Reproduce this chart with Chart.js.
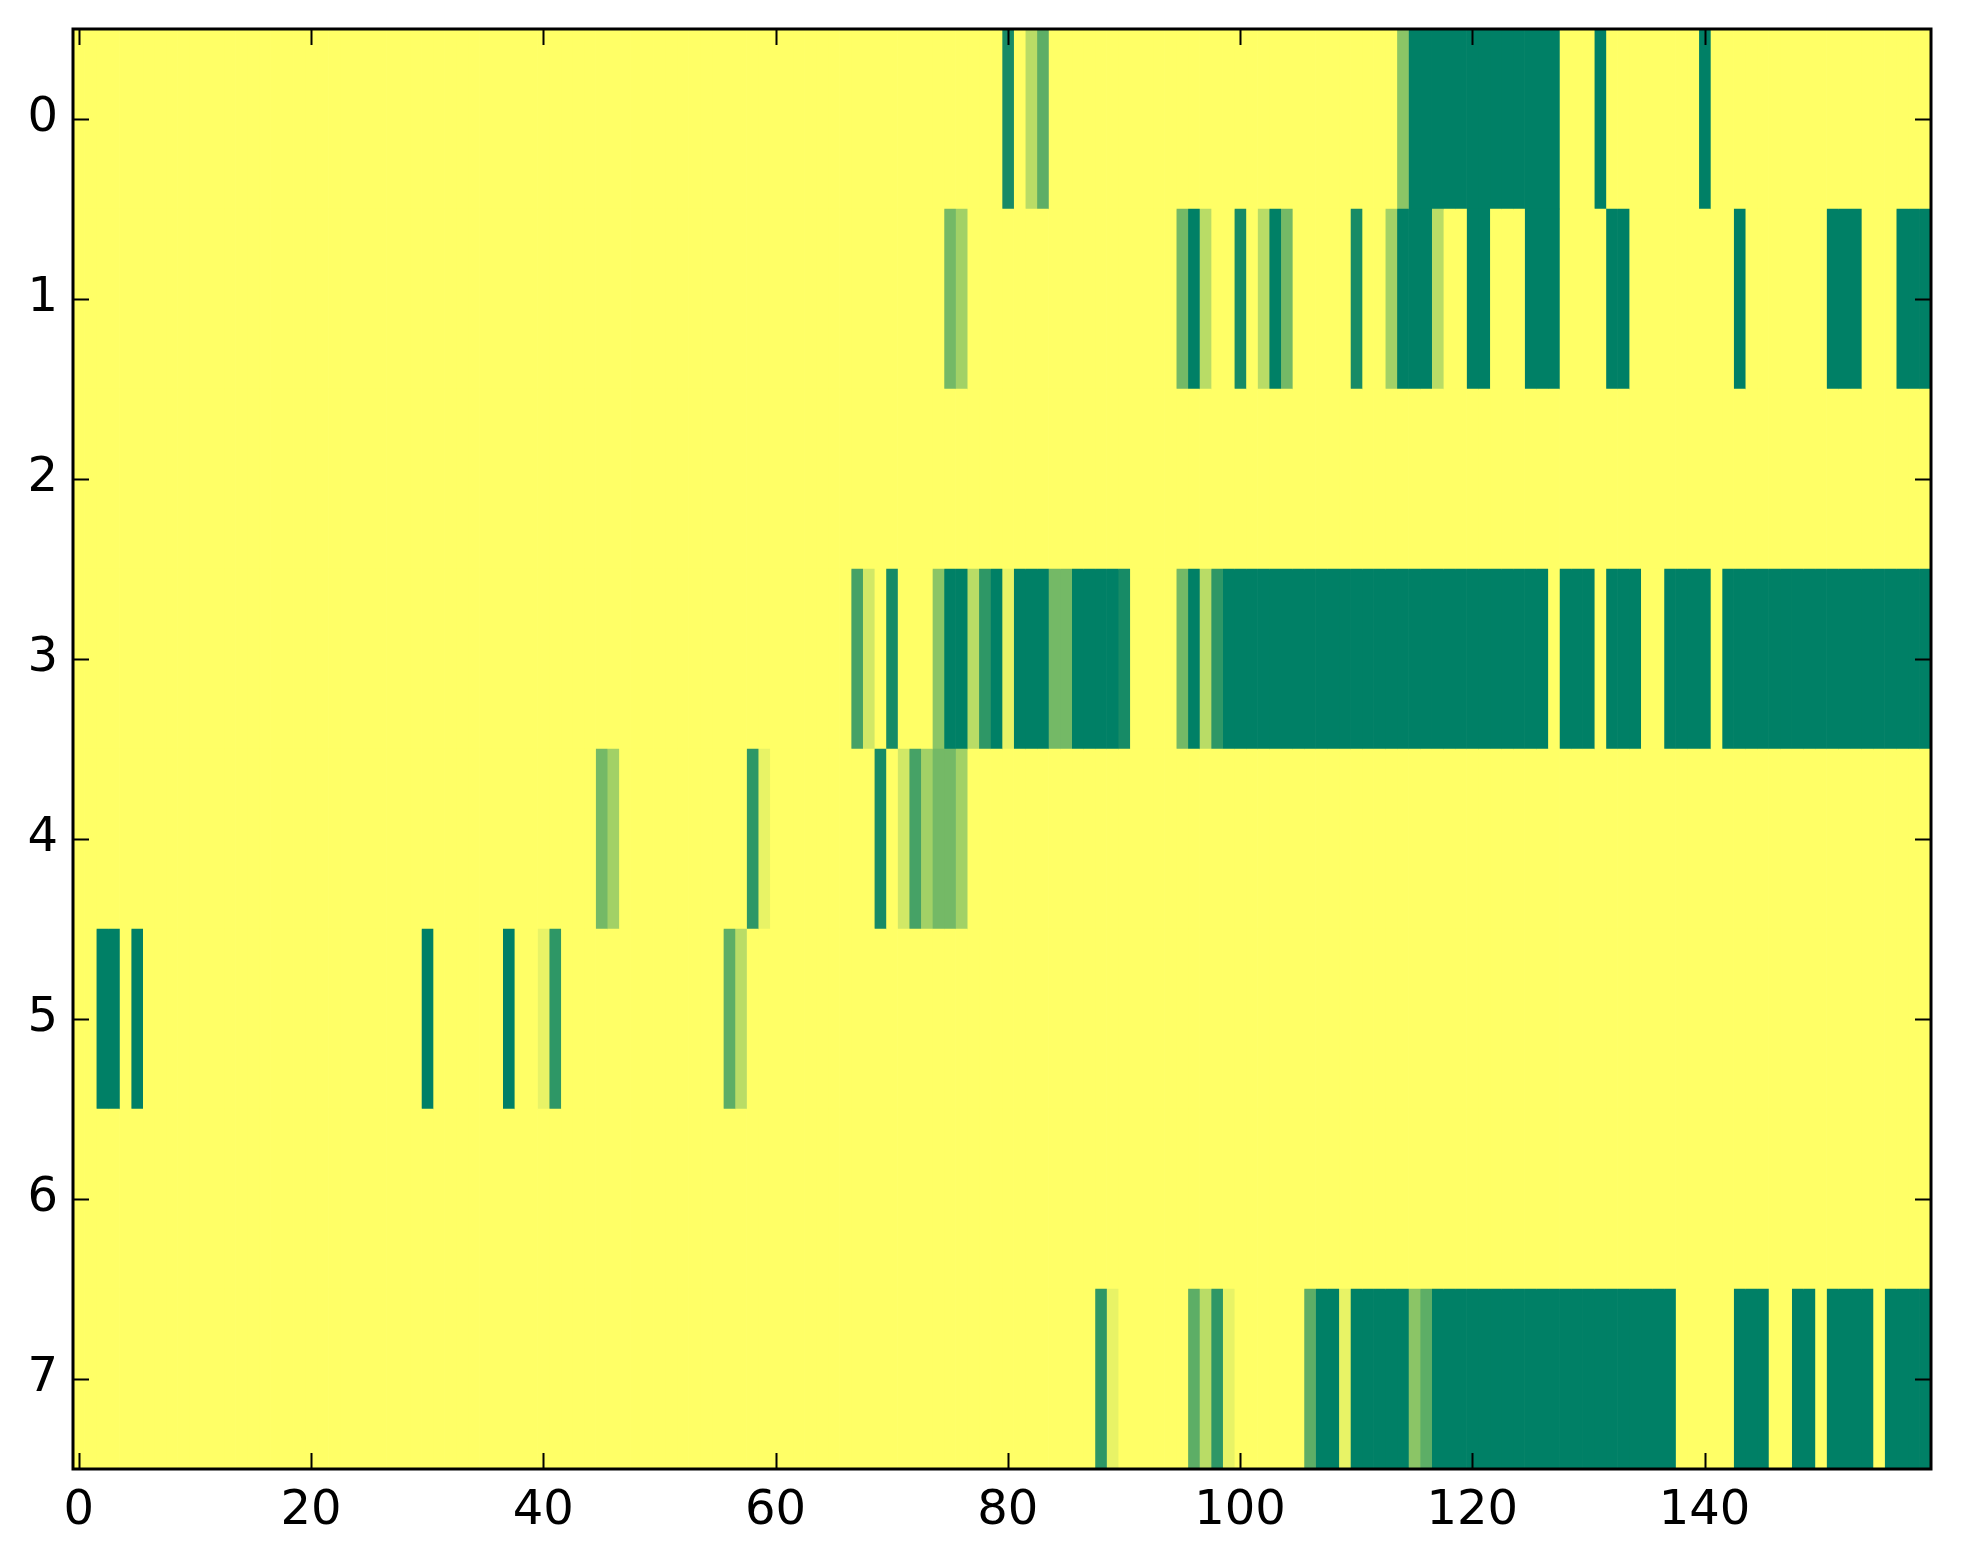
<!DOCTYPE html>
<html>
<head>
<meta charset="utf-8">
<script src="https://cdn.jsdelivr.net/npm/chart.js@4/dist/chart.umd.min.js"></script>
<style>
  html, body { margin: 0; padding: 0; background: #ffffff; }
  #wrap { width: 1963px; height: 1564px; }
</style>
</head>
<body>
<div id="wrap"><canvas id="c" width="1963" height="1564"></canvas></div>
<script>
// ---- data (counts per cell, rows 0..7, columns 0..159) ----
const rowLabels = ['0', '1', '2', '3', '4', '5', '6', '7'];
const xTickValues = [0, 20, 40, 60, 80, 100, 120, 140];
const valueMax = 11;

const row0 = [
  0,0,0,0,0,0,0,0,0,0, 0,0,0,0,0,0,0,0,0,0,
  0,0,0,0,0,0,0,0,0,0, 0,0,0,0,0,0,0,0,0,0,
  0,0,0,0,0,0,0,0,0,0, 0,0,0,0,0,0,0,0,0,0,
  0,0,0,0,0,0,0,0,0,0, 0,0,0,0,0,0,0,0,0,0,
  10,0,3,7,0,0,0,0,0,0, 0,0,0,0,0,0,0,0,0,0,
  0,0,0,0,0,0,0,0,0,0, 0,0,0,0,5,11,11,11,11,11,
  11,11,11,11,11,11,11,11,0,0, 0,11,0,0,0,0,0,0,0,0,
  11,0,0,0,0,0,0,0,0,0, 0,0,0,0,0,0,0,0,0,0
];
const row1 = [
  0,0,0,0,0,0,0,0,0,0, 0,0,0,0,0,0,0,0,0,0,
  0,0,0,0,0,0,0,0,0,0, 0,0,0,0,0,0,0,0,0,0,
  0,0,0,0,0,0,0,0,0,0, 0,0,0,0,0,0,0,0,0,0,
  0,0,0,0,0,0,0,0,0,0, 0,0,0,0,0,6,4,0,0,0,
  0,0,0,0,0,0,0,0,0,0, 0,0,0,0,0,6,11,3,0,0,
  10,0,3,11,6,0,0,0,0,0, 10,0,0,4,11,11,11,3,0,0,
  11,11,0,0,0,11,11,11,0,0, 0,0,11,11,0,0,0,0,0,0,
  0,0,0,11,0,0,0,0,0,0, 0,11,11,11,0,0,0,11,11,11
];
const row2 = [
  0,0,0,0,0,0,0,0,0,0, 0,0,0,0,0,0,0,0,0,0,
  0,0,0,0,0,0,0,0,0,0, 0,0,0,0,0,0,0,0,0,0,
  0,0,0,0,0,0,0,0,0,0, 0,0,0,0,0,0,0,0,0,0,
  0,0,0,0,0,0,0,0,0,0, 0,0,0,0,0,0,0,0,0,0,
  0,0,0,0,0,0,0,0,0,0, 0,0,0,0,0,0,0,0,0,0,
  0,0,0,0,0,0,0,0,0,0, 0,0,0,0,0,0,0,0,0,0,
  0,0,0,0,0,0,0,0,0,0, 0,0,0,0,0,0,0,0,0,0,
  0,0,0,0,0,0,0,0,0,0, 0,0,0,0,0,0,0,0,0,0
];
const row3 = [
  0,0,0,0,0,0,0,0,0,0, 0,0,0,0,0,0,0,0,0,0,
  0,0,0,0,0,0,0,0,0,0, 0,0,0,0,0,0,0,0,0,0,
  0,0,0,0,0,0,0,0,0,0, 0,0,0,0,0,0,0,0,0,0,
  0,0,0,0,0,0,0,8,2,0, 10,0,0,0,5,11,11,3,9,11,
  1,11,11,11,6,6,11,11,11,11, 10,0,0,0,0,6,11,3,9,11,
  11,11,11,11,11,11,11,11,11,11, 11,11,11,11,11,11,11,11,11,11,
  11,11,11,11,11,11,11,0,11,11, 11,0,11,11,11,0,0,11,11,11,
  11,0,11,11,11,11,11,11,11,11, 11,11,11,11,11,11,11,11,11,11
];
const row4 = [
  0,0,0,0,0,0,0,0,0,0, 0,0,0,0,0,0,0,0,0,0,
  0,0,0,0,0,0,0,0,0,0, 0,0,0,0,0,0,0,0,0,0,
  0,0,0,0,0,6,4,0,0,0, 0,0,0,0,0,0,0,0,9,1,
  0,0,0,0,0,0,0,0,0,10, 0,2,8,4,6,6,4,0,0,0,
  0,0,0,0,0,0,0,0,0,0, 0,0,0,0,0,0,0,0,0,0,
  0,0,0,0,0,0,0,0,0,0, 0,0,0,0,0,0,0,0,0,0,
  0,0,0,0,0,0,0,0,0,0, 0,0,0,0,0,0,0,0,0,0,
  0,0,0,0,0,0,0,0,0,0, 0,0,0,0,0,0,0,0,0,0
];
const row5 = [
  0,0,11,11,0,11,0,0,0,0, 0,0,0,0,0,0,0,0,0,0,
  0,0,0,0,0,0,0,0,0,0, 11,0,0,0,0,0,0,11,0,0,
  1,9,0,0,0,0,0,0,0,0, 0,0,0,0,0,0,7,3,0,0,
  0,0,0,0,0,0,0,0,0,0, 0,0,0,0,0,0,0,0,0,0,
  0,0,0,0,0,0,0,0,0,0, 0,0,0,0,0,0,0,0,0,0,
  0,0,0,0,0,0,0,0,0,0, 0,0,0,0,0,0,0,0,0,0,
  0,0,0,0,0,0,0,0,0,0, 0,0,0,0,0,0,0,0,0,0,
  0,0,0,0,0,0,0,0,0,0, 0,0,0,0,0,0,0,0,0,0
];
const row6 = [
  0,0,0,0,0,0,0,0,0,0, 0,0,0,0,0,0,0,0,0,0,
  0,0,0,0,0,0,0,0,0,0, 0,0,0,0,0,0,0,0,0,0,
  0,0,0,0,0,0,0,0,0,0, 0,0,0,0,0,0,0,0,0,0,
  0,0,0,0,0,0,0,0,0,0, 0,0,0,0,0,0,0,0,0,0,
  0,0,0,0,0,0,0,0,0,0, 0,0,0,0,0,0,0,0,0,0,
  0,0,0,0,0,0,0,0,0,0, 0,0,0,0,0,0,0,0,0,0,
  0,0,0,0,0,0,0,0,0,0, 0,0,0,0,0,0,0,0,0,0,
  0,0,0,0,0,0,0,0,0,0, 0,0,0,0,0,0,0,0,0,0
];
const row7 = [
  0,0,0,0,0,0,0,0,0,0, 0,0,0,0,0,0,0,0,0,0,
  0,0,0,0,0,0,0,0,0,0, 0,0,0,0,0,0,0,0,0,0,
  0,0,0,0,0,0,0,0,0,0, 0,0,0,0,0,0,0,0,0,0,
  0,0,0,0,0,0,0,0,0,0, 0,0,0,0,0,0,0,0,0,0,
  0,0,0,0,0,0,0,0,9,1, 0,0,0,0,0,0,7,3,9,1,
  0,0,0,0,0,0,7,11,11,1, 11,11,11,11,11,5,7,11,11,11,
  11,11,11,11,11,11,11,11,11,11, 11,11,11,11,11,11,11,11,0,0,
  0,0,0,11,11,11,0,0,11,11, 0,11,11,11,11,0,11,11,11,11
];

const rows = [row0, row1, row2, row3, row4, row5, row6, row7];
const nCols = row0.length;

// matplotlib "summer_r" colormap
function summerR(v) {
  const t = 1 - v / valueMax;
  const r = Math.round(255 * t);
  const g = Math.round(255 * (0.5 + 0.5 * t));
  const b = Math.round(255 * 0.4);
  return 'rgb(' + r + ',' + g + ',' + b + ')';
}

const datasets = [];
for (let c = 0; c < nCols; c++) {
  datasets.push({
    label: 'col ' + c,
    data: rowLabels.map(() => [c - 0.5, c + 0.5]),
    backgroundColor: rowLabels.map((_, r) => summerR(rows[r][c])),
    borderWidth: 0,
    barPercentage: 1.0,
    categoryPercentage: 1.0,
    grouped: false
  });
}

const framePlugin = {
  id: 'frame',
  afterDraw(chart) {
    const { ctx, chartArea: a, scales } = chart;
    ctx.save();
    ctx.strokeStyle = '#000';
    ctx.lineWidth = 2;
    const tl = 16;
    ctx.beginPath();
    xTickValues.forEach(v => {
      const x = Math.round(scales.x.getPixelForValue(v)) + 0.5;
      ctx.moveTo(x, a.bottom); ctx.lineTo(x, a.bottom - tl);
      ctx.moveTo(x, a.top); ctx.lineTo(x, a.top + tl);
    });
    rowLabels.forEach((_, i) => {
      const y = Math.round(scales.y.getPixelForValue(i)) + 0.5;
      ctx.moveTo(a.left, y); ctx.lineTo(a.left + tl, y);
      ctx.moveTo(a.right, y); ctx.lineTo(a.right - tl, y);
    });
    ctx.stroke();
    ctx.lineWidth = 3;
    ctx.strokeRect(a.left, a.top, a.right - a.left, a.bottom - a.top);
    ctx.restore();
  }
};

new Chart(document.getElementById('c'), {
  type: 'bar',
  data: { labels: rowLabels, datasets },
  options: {
    indexAxis: 'y',
    responsive: false,
    animation: false,
    devicePixelRatio: 1,
    layout: { padding: { left: 0, top: 29, right: 32, bottom: 0 } },
    plugins: { legend: { display: false }, tooltip: { enabled: false } },
    scales: {
      x: {
        type: 'linear',
        min: -0.5,
        max: nCols - 0.5,
        grid: { display: false, drawTicks: false },
        border: { display: false },
        afterBuildTicks(scale) { scale.ticks = xTickValues.map(v => ({ value: v })); },
        afterFit(scale) { scale.height = 95; },
        ticks: { font: { family: 'DejaVu Sans', size: 48 }, color: '#000', padding: 14, maxRotation: 0, autoSkip: false }
      },
      y: {
        type: 'category',
        offset: true,
        grid: { display: false, drawTicks: false },
        border: { display: false },
        afterFit(scale) { scale.width = 73; },
        ticks: { font: { family: 'DejaVu Sans', size: 48, lineHeight: 0.5 }, color: '#000', padding: 15, autoSkip: false }
      }
    }
  },
  plugins: [framePlugin]
});
</script>
</body>
</html>
